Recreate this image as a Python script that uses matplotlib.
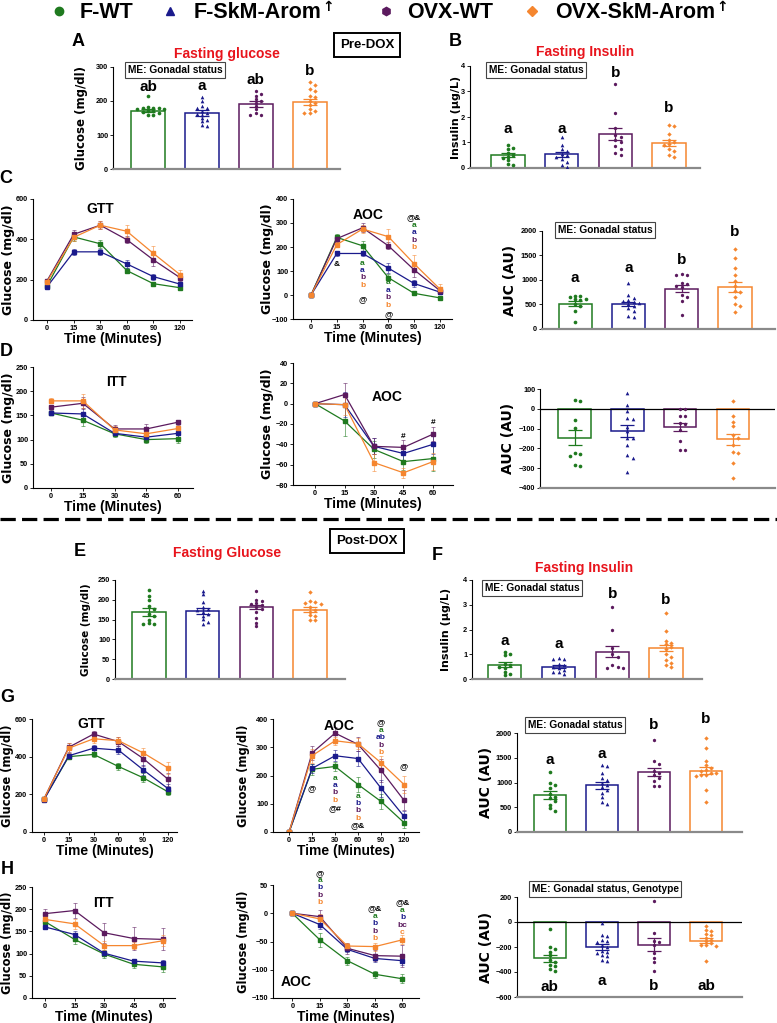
import numpy as np
import matplotlib
matplotlib.use('Agg')
import matplotlib.pyplot as plt
from matplotlib.lines import Line2D
from matplotlib.colors import to_rgba

plt.rcParams['font.family'] = ['Liberation Sans', 'DejaVu Sans']
plt.rcParams['font.weight'] = 'bold'
plt.rcParams['lines.scale_dashes'] = False

W, H = 777, 1023

groups = ['F-WT', 'F-SkM-Arom', 'OVX-WT', 'OVX-SkM-Arom']
colors = ['#1f7a1f', '#1a1a8c', '#5b1a5e', '#f5862f']
markers = ['o', '^', 'h', 'D']

gtt_times = ['0', '15', '30', '60', '90', '120']
itt_times = ['0', '15', '30', '45', '60']

# ---------------- Pre-DOX ----------------
# A: fasting glucose
a_mean = [172, 165, 190, 197]
a_sem = [5, 8, 9, 9]
a_pts = [
    [215, 182, 180, 180, 178, 176, 175, 172, 170, 168, 165, 160, 158],
    [212, 200, 185, 180, 178, 170, 165, 163, 160, 150, 145, 140, 128, 125],
    [230, 222, 215, 205, 200, 195, 185, 175, 165, 160, 158],
    [255, 248, 235, 228, 215, 212, 200, 195, 188, 175, 170, 165, 165],
]
a_letters = ['ab', 'a', 'ab', 'b']
a_letter_y = [241, 244, 261, 288]

# B: fasting insulin
b_mean = [0.50, 0.53, 1.33, 0.98]
b_sem = [0.07, 0.08, 0.23, 0.11]
b_pts = [
    [0.9, 0.8, 0.75, 0.6, 0.5, 0.45, 0.4, 0.3, 0.15, 0.1],
    [1.2, 0.9, 0.75, 0.65, 0.55, 0.5, 0.45, 0.35, 0.25, 0.1, 0.05],
    [3.3, 2.15, 1.55, 1.3, 1.2, 1.1, 1.0, 0.85, 0.75, 0.6, 0.5],
    [1.7, 1.65, 1.35, 1.1, 1.0, 0.95, 0.9, 0.75, 0.65, 0.5, 0.45],
]
b_letters = ['a', 'a', 'b', 'b']
b_letter_y = [1.53, 1.53, 3.72, 2.35]

# C: GTT pre
c_gtt = [
    [170, 412, 378, 245, 180, 160],
    [165, 338, 338, 278, 215, 178],
    [195, 425, 470, 398, 298, 210],
    [190, 410, 470, 440, 330, 225],
]
c_gtt_err = [
    [5, 20, 20, 12, 6, 5],
    [8, 15, 15, 20, 15, 8],
    [8, 20, 20, 18, 30, 15],
    [8, 20, 20, 30, 35, 25],
]
c_aoc = [
    [0, 240, 205, 72, 7, -12],
    [0, 173, 173, 112, 48, 12],
    [0, 235, 280, 205, 105, 18],
    [0, 210, 275, 243, 130, 25],
]
c_aoc_err = [
    [0, 15, 20, 15, 8, 5],
    [0, 12, 12, 22, 15, 8],
    [0, 15, 18, 15, 30, 15],
    [0, 12, 15, 30, 35, 20],
]
c_aoc_notes = [
    (1, 129, ['&']),
    (2, 133, ['a', 'a', 'b', 'b']),
    (2, -20, ['@']),
    (3, 50, ['a', 'a', 'b', 'b']),
    (3, -82, ['@']),
    (4, 321, ['@&', 'a', 'a', 'b', 'b']),
]
c_auc_mean = [520, 505, 825, 865]
c_auc_sem = [50, 40, 70, 100]
c_auc_pts = [
    [680, 670, 650, 620, 610, 600, 510, 470, 370, 150],
    [930, 700, 640, 600, 580, 560, 540, 510, 470, 420, 360, 260, 235],
    [1130, 1100, 1110, 930, 920, 880, 860, 700, 650, 570, 290],
    [1640, 1450, 1240, 1110, 970, 870, 780, 760, 660, 510, 460, 340],
]
c_auc_letters = ['a', 'a', 'b', 'b']
c_auc_letter_y = [1040, 1245, 1408, 1980]

# D: ITT pre
d_itt = [
    [155, 140, 112, 100, 102],
    [155, 153, 113, 105, 113],
    [167, 175, 122, 122, 136],
    [180, 180, 120, 112, 123],
]
d_itt_err = [
    [5, 12, 6, 7, 8],
    [5, 12, 5, 8, 8],
    [5, 12, 8, 10, 5],
    [5, 15, 8, 8, 6],
]
d_aoc = [
    [0, -17, -45, -57, -54],
    [0, -1, -42, -49, -40],
    [0, 9, -42, -43, -30],
    [0, -1, -58, -68, -57],
]
d_aoc_err = [
    [0, 15, 8, 8, 12],
    [0, 12, 8, 8, 10],
    [0, 11, 8, 7, 7],
    [0, 10, 8, 5, 8],
]
d_aoc_notes = [(3, -32, ['#']), (4, -19, ['#'])]
d_auc_mean = [-145, -110, -90, -155]
d_auc_sem = [38, 30, 20, 30]
d_auc_pts = [
    [45, 40, -55, -95, -225, -230, -240, -285, -290],
    [80, 20, -10, -45, -50, -90, -110, -145, -150, -185, -235, -250, -320],
    [0, 0, -35, -35, -70, -75, -105, -165, -210, -210],
    [40, -35, -65, -85, -130, -145, -185, -220, -225, -275, -350],
]

# ---------------- Post-DOX ----------------
e_mean = [170, 172, 182, 175]
e_sem = [10, 7, 6, 6]
e_pts = [
    [225, 210, 200, 185, 178, 165, 160, 150, 142, 140, 138],
    [223, 215, 195, 182, 178, 175, 170, 165, 160, 152, 145, 140],
    [222, 200, 196, 192, 190, 186, 182, 178, 170, 155, 142, 133],
    [220, 196, 195, 193, 190, 182, 175, 170, 162, 158, 150, 148],
]

f_mean = [0.57, 0.50, 1.10, 1.25]
f_sem = [0.10, 0.06, 0.23, 0.13]
f_pts = [
    [1.1, 1.0, 0.95, 0.6, 0.55, 0.5, 0.45, 0.3, 0.2, 0.15],
    [0.85, 0.8, 0.8, 0.6, 0.55, 0.5, 0.45, 0.35, 0.3, 0.3, 0.2],
    [2.9, 2.0, 1.25, 1.0, 0.9, 0.55, 0.5, 0.45, 0.45],
    [2.65, 1.95, 1.55, 1.45, 1.4, 1.3, 1.2, 1.0, 0.9, 0.75, 0.65, 0.55, 0.5],
]
f_letters = ['a', 'a', 'b', 'b']
f_letter_y = [1.55, 1.40, 3.45, 3.2]

g_gtt = [
    [175, 400, 412, 348, 288, 213],
    [170, 405, 445, 435, 330, 230],
    [175, 450, 520, 480, 390, 280],
    [175, 445, 495, 485, 420, 340],
]
g_gtt_err = [
    [8, 15, 12, 20, 25, 18],
    [8, 15, 18, 20, 25, 25],
    [8, 25, 18, 25, 40, 35],
    [8, 25, 20, 20, 25, 30],
]
g_aoc = [
    [0, 222, 232, 168, 108, 33],
    [0, 225, 270, 260, 155, 55],
    [0, 280, 350, 310, 218, 112],
    [0, 270, 323, 313, 245, 168],
]
g_aoc_err = [
    [0, 20, 15, 25, 25, 20],
    [0, 15, 20, 25, 30, 20],
    [0, 25, 20, 25, 40, 35],
    [0, 25, 15, 20, 25, 30],
]
g_aoc_notes = [
    (1, 152, ['@']),
    (2, 191, ['a', 'a', 'b', 'b']),
    (2, 81, ['@#']),
    (3, 127, ['a', 'b', 'b', 'b']),
    (3, 21, ['@&']),
    (4, 386, ['@', 'a', 'ab', 'b', 'b']),
    (5, 230, ['@']),
]
g_auc_mean = [745, 940, 1210, 1240]
g_auc_sem = [75, 75, 85, 75]
g_auc_pts = [
    [1220, 1000, 950, 880, 760, 700, 680, 620, 550, 480, 420],
    [1350, 1340, 1200, 1100, 1050, 980, 940, 910, 850, 780, 700, 610, 560],
    [1860, 1440, 1380, 1240, 1190, 1150, 1100, 1030, 930, 920],
    [1890, 1690, 1440, 1350, 1300, 1250, 1240, 1200, 1200, 1150, 1150, 1140, 850, 600],
]
g_auc_letters = ['a', 'a', 'b', 'b']
g_auc_letter_y = [1454, 1575, 2161, 2282]

h_itt = [
    [172, 132, 99, 76, 70],
    [160, 143, 101, 83, 79],
    [190, 197, 147, 134, 132],
    [177, 167, 118, 118, 129],
]
h_itt_err = [
    [5, 10, 8, 8, 12],
    [5, 8, 5, 5, 6],
    [10, 17, 23, 25, 25],
    [8, 12, 10, 8, 12],
]
h_aoc = [
    [0, -47, -84, -108, -116],
    [0, -20, -64, -80, -84],
    [0, -6, -62, -75, -76],
    [0, -10, -58, -59, -47],
]
h_aoc_err = [
    [0, 12, 7, 6, 8],
    [0, 7, 5, 6, 7],
    [0, 12, 10, 10, 20],
    [0, 8, 6, 7, 8],
]
h_aoc_notes = [
    (1, 71, ['@', 'a', 'b', 'b', 'b']),
    (3, 7.5, ['@&', 'a', 'b', 'b', 'b']),
    (4, 18, ['@&', 'a', 'b', 'bc', 'c']),
]
h_auc_mean = [-290, -200, -180, -150]
h_auc_sem = [30, 22, 50, 20]
h_auc_pts = [
    [-55, -200, -215, -240, -265, -300, -320, -345, -350, -375, -390],
    [-10, -100, -110, -140, -150, -160, -180, -200, -230, -240, -250, -260, -275, -300, -310],
    [165, -85, -150, -160, -180, -250, -290, -320, -390],
    [-35, -60, -70, -95, -105, -125, -140, -150, -170, -180, -185, -190, -315],
]
h_auc_letters = ['ab', 'a', 'b', 'ab']
h_auc_letter_y = [-520, -472, -512, -512]


fig = plt.figure(figsize=(W / 100, H / 100), dpi=100)


def rect(x0, x1, yt, yb):
    return [x0 / W, 1 - yb / H, (x1 - x0) / W, (yb - yt) / H]


def ftext(x, y, s, **kw):
    return fig.text(x / W, 1 - y / H, s, ha=kw.pop('ha', 'center'),
                    va=kw.pop('va', 'center'), **kw)


def style_axes(ax, ylim, yticks, xlim):
    ax.set_ylim(*ylim)
    ax.set_yticks(yticks)
    ax.set_xlim(*xlim)
    for s in ['top', 'right']:
        ax.spines[s].set_visible(False)
    ax.spines['left'].set_linewidth(0.8)
    ax.spines['bottom'].set_linewidth(0.8)
    ax.tick_params(labelsize=5.3, length=2, width=0.6, pad=1.5)
    for lab in ax.get_yticklabels() + ax.get_xticklabels():
        lab.set_fontweight('bold')


def set_ylab(ax, text, size, xc, x0, x1):
    ax.set_ylabel(text, family='DejaVu Sans', fontweight='bold', fontsize=size)
    off = size * 0.75
    ax.yaxis.set_label_coords((xc + off - x0) / (x1 - x0), 0.5)


def line_panel(box, times, series, errs, ylim, yticks, xlim, ylab, lab_x, ysize=9):
    ax = fig.add_axes(rect(*box))
    x = np.arange(len(times))
    for vals, err, c in zip(series, errs, colors):
        ax.errorbar(x, vals, yerr=err, color=c, ecolor=to_rgba(c, 0.55), lw=0.9,
                    marker='s', ms=2.3, capsize=1.6, elinewidth=0.7, capthick=0.7)
    style_axes(ax, ylim, yticks, xlim)
    ax.set_xticks(x)
    ax.set_xticklabels(times, fontweight='bold')
    ax.set_xlabel('Time (Minutes)', fontsize=10, fontweight='bold', labelpad=0)
    set_ylab(ax, ylab, ysize, lab_x, box[0], box[1])
    return ax


def notes(ax, items):
    for xi, y, labs in items:
        cols = colors if labs[0][0] not in '@&#' else ['k'] + colors
        for k, (s, c) in enumerate(zip(labs, cols)):
            ax.annotate(s, (xi, y), xytext=(0, -5.3 * k), textcoords='offset points',
                        ha='center', va='center', fontsize=6, fontweight='bold',
                        color=c, annotation_clip=False)


def swarm(vals, thr, step):
    placed, offs = [], []
    for v in vals:
        o = 0
        for k in [0, 1, -1, 2, -2, 3, -3, 4, -4]:
            o = k * step
            if all(abs(v - pv) > thr or abs(o - po) > step * 0.9 for pv, po in placed):
                break
        placed.append((v, o))
        offs.append(o)
    return np.array(offs)


def bar_panel(box, means, sems, pts, ylim, yticks, xlim, ylab, lab_x, ysize=10):
    ax = fig.add_axes(rect(*box))
    thr = (ylim[1] - ylim[0]) * 0.03
    for i in range(4):
        c = colors[i]
        ax.bar(i, means[i], width=0.62, color='white', edgecolor=c, lw=1.1, zorder=1)
        offs = swarm(pts[i], thr, 0.1)
        ax.scatter(i + offs, pts[i], s=7 if markers[i] != 'D' else 5,
                   marker=markers[i], color=c, lw=0, zorder=3)
        ax.errorbar(i, means[i], yerr=sems[i], color=c, capsize=5, lw=0.9,
                    capthick=0.9, zorder=4)
    style_axes(ax, ylim, yticks, xlim)
    ax.set_xticks([])
    ax.spines['bottom'].set_color('#8a8a8a')
    ax.spines['bottom'].set_linewidth(1.6)
    if ylim[0] < 0:
        ax.axhline(0, color='k', lw=0.9, zorder=2)
    set_ylab(ax, ylab, ysize, lab_x, box[0], box[1])
    return ax


def letters(ax, labs, ys, size=11):
    for i, (s, y) in enumerate(zip(labs, ys)):
        ax.text(i, y, s, ha='center', va='center', fontsize=size,
                fontweight='bold', clip_on=False)


def me_box(x, y, s):
    ftext(x, y, s, fontsize=7.3, fontweight='bold',
          bbox=dict(boxstyle='square,pad=0.25', fc='white', ec='#444444', lw=0.8))


def title_text(ax, fx, fy, s, size=10):
    ax.text(fx, fy, s, transform=ax.transAxes, ha='center', va='center',
            fontsize=size, fontweight='bold')


# ---------------- top legend ----------------
leg_marker_x = [59, 170, 386, 532]
leg_text_x = [80, 194, 407, 555]
for i in range(4):
    fig.add_artist(Line2D([leg_marker_x[i] / W], [1 - 11 / H], marker=markers[i],
                          ms=6 if markers[i] != 'D' else 5, color=colors[i], lw=0,
                          transform=fig.transFigure))
    t = ftext(leg_text_x[i], 12, groups[i], ha='left', fontsize=15.5, fontweight='bold')
    if 'Arom' in groups[i]:
        fig.canvas.draw()
        bb = t.get_window_extent()
        fig.text(bb.x1 / fig.dpi / fig.get_figwidth() + 0.001, 1 - 7 / H, '\u2191',
                 ha='left', va='center', fontsize=10, fontweight='bold',
                 family=['DejaVu Sans'])

# ---------------- panel labels / headers ----------------
for s, x, y in [('A', 78, 42), ('B', 455, 42), ('C', 6, 178), ('D', 6, 352),
                ('E', 80, 552), ('F', 437, 556), ('G', 7, 698), ('H', 7, 870)]:
    ftext(x, y, s, fontsize=13, fontweight='bold')

for s, x, y in [('Pre-DOX', 367, 45), ('Post-DOX', 367, 541)]:
    ftext(x, y, s, fontsize=9.5, fontweight='bold',
          bbox=dict(boxstyle='square,pad=0.45', fc='white', ec='black', lw=1.4))

red = '#e8141c'
ftext(227, 54, 'Fasting glucose', fontsize=10, color=red, fontweight='bold')
ftext(585, 52, 'Fasting Insulin', fontsize=10, color=red, fontweight='bold')
ftext(227, 553, 'Fasting Glucose', fontsize=10, color=red, fontweight='bold')
ftext(584, 568, 'Fasting Insulin', fontsize=10, color=red, fontweight='bold')

fig.add_artist(Line2D([0, 1], [1 - 519 / H] * 2, color='k', lw=2.3,
                      dashes=(11, 4.5), transform=fig.transFigure))

# ---------------- A / B ----------------
axA = bar_panel((113, 340, 67, 169), a_mean, a_sem, a_pts, (0, 300), [0, 100, 200, 300],
                (-0.65, 3.56), 'Glucose (mg/dl)', 82, ysize=8.5)
letters(axA, a_letters, a_letter_y)
me_box(175, 70, 'ME: Gonadal status')

axB = bar_panel((470, 700, 66, 168), b_mean, b_sem, b_pts, (0, 4), [0, 1, 2, 3, 4],
                (-0.71, 3.58), 'Insulin (\u00b5g/L)', 455, ysize=8)
letters(axB, b_letters, b_letter_y)
me_box(536, 70, 'ME: Gonadal status')

# ---------------- C ----------------
ax = line_panel((33, 192, 199, 320), gtt_times, c_gtt, c_gtt_err, (0, 600), [0, 200, 400, 600],
                (-0.53, 5.45), 'Glucose (mg/dl)', 8)
title_text(ax, 0.42, 0.92, 'GTT')
ax = line_panel((293, 452, 199, 319), gtt_times, c_aoc, c_aoc_err, (-100, 400),
                [-100, 0, 100, 200, 300, 400], (-0.7, 5.47), 'Glucose (mg/dl)', 267)
title_text(ax, 0.47, 0.87, 'AOC')
notes(ax, c_aoc_notes)
ax = bar_panel((542, 775, 231, 329), c_auc_mean, c_auc_sem, c_auc_pts, (0, 2000),
               [0, 500, 1000, 1500, 2000], (-0.62, 3.75), 'AUC (AU)', 509)
letters(ax, c_auc_letters, c_auc_letter_y)
me_box(605, 230, 'ME: Gonadal status')

# ---------------- D ----------------
ax = line_panel((33, 193, 367, 488), itt_times, d_itt, d_itt_err, (0, 250),
                [0, 50, 100, 150, 200, 250], (-0.57, 4.47), 'Glucose (mg/dl)', 8)
title_text(ax, 0.52, 0.88, 'ITT')
ax = line_panel((293, 453, 363, 485), itt_times, d_aoc, d_aoc_err, (-80, 40),
                [-80, -60, -40, -20, 0, 20, 40], (-0.75, 4.68), 'Glucose (mg/dl)', 267)
title_text(ax, 0.59, 0.72, 'AOC')
notes(ax, d_aoc_notes)
ax = bar_panel((540, 775, 389, 488), d_auc_mean, d_auc_sem, d_auc_pts, (-400, 100),
               [-400, -300, -200, -100, 0, 100], (-0.66, 3.80), 'AUC (AU)', 508)

# ---------------- E / F ----------------
ax = bar_panel((115, 345, 580, 679), e_mean, e_sem, e_pts, (0, 250),
               [0, 50, 100, 150, 200, 250], (-0.63, 3.65), 'Glucose (mg/dl)', 85, ysize=7.5)
ax = bar_panel((472, 702, 580, 679), f_mean, f_sem, f_pts, (0, 4), [0, 1, 2, 3, 4],
               (-0.61, 3.67), 'Insulin (\u00b5g/L)', 445, ysize=8)
letters(ax, f_letters, f_letter_y)
me_box(532, 588, 'ME: Gonadal status')

# ---------------- G ----------------
ax = line_panel((32, 177, 719, 832), gtt_times, g_gtt, g_gtt_err, (0, 600), [0, 200, 400, 600],
                (-0.48, 5.36), 'Glucose (mg/dl)', 8, ysize=8.3)
title_text(ax, 0.41, 0.96, 'GTT')
ax = line_panel((273, 419, 719, 832), gtt_times, g_aoc, g_aoc_err, (0, 400),
                [0, 100, 200, 300, 400], (-0.7, 5.65), 'Glucose (mg/dl)', 244, ysize=8.3)
title_text(ax, 0.45, 0.94, 'AOC')
notes(ax, g_aoc_notes)
ax = bar_panel((517, 742, 733, 832), g_auc_mean, g_auc_sem, g_auc_pts, (0, 2000),
               [0, 500, 1000, 1500, 2000], (-0.63, 3.69), 'AUC (AU)', 486)
letters(ax, g_auc_letters, g_auc_letter_y)
me_box(575, 725, 'ME: Gonadal status')

# ---------------- H ----------------
ax = line_panel((32, 175, 887, 998), itt_times, h_itt, h_itt_err, (0, 250),
                [0, 50, 100, 150, 200, 250], (-0.44, 4.4), 'Glucose (mg/dl)', 8, ysize=8.3)
title_text(ax, 0.5, 0.86, 'ITT')
ax = line_panel((273, 419, 885, 998), itt_times, h_aoc, h_aoc_err, (-150, 50),
                [-150, -100, -50, 0, 50], (-0.7, 4.6), 'Glucose (mg/dl)', 244, ysize=8.3)
title_text(ax, 0.16, 0.14, 'AOC')
notes(ax, h_aoc_notes)
ax = bar_panel((517, 742, 897, 997), h_auc_mean, h_auc_sem, h_auc_pts, (-600, 200),
               [-600, -400, -200, 0, 200], (-0.63, 3.69), 'AUC (AU)', 486)
letters(ax, h_auc_letters, h_auc_letter_y)
me_box(605, 889, 'ME: Gonadal status, Genotype')

fig.savefig('out.png', dpi=100)
